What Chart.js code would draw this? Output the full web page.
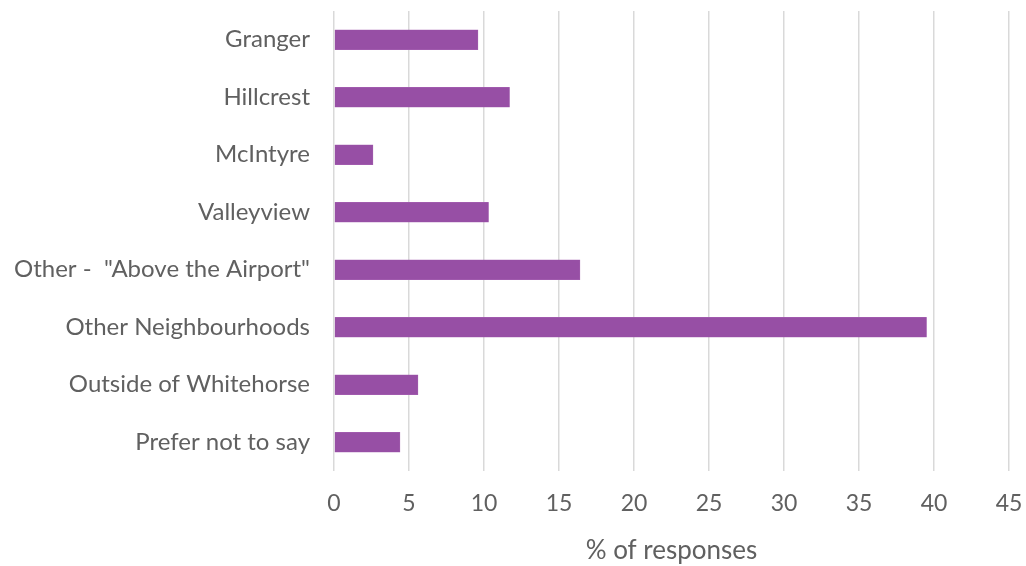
<!DOCTYPE html>
<html>
<head>
<meta charset="utf-8">
<script src="https://cdn.jsdelivr.net/npm/chart.js@4"></script>
<style>
  html, body { margin: 0; padding: 0; background: #fff; }
  #wrap { width: 1026px; height: 566px; }
</style>
</head>
<body>
<div id="wrap"><canvas id="neighbourhoodChart" width="1026" height="566"></canvas></div>
<script>
const neighbourhoods = [
  'Granger',
  'Hillcrest',
  'McIntyre',
  'Valleyview',
  'Other -  "Above the Airport"',
  'Other Neighbourhoods',
  'Outside of Whitehorse',
  'Prefer not to say',
];
const responsePct = [9.6, 11.7, 2.6, 10.3, 16.4, 39.5, 5.6, 4.4];
const xTicks = [0, 5, 10, 15, 20, 25, 30, 35, 40, 45];

const textGrey = '#606060';
const fontFamily = 'Lato, "Open Sans", sans-serif';

const ctx = document.getElementById('neighbourhoodChart').getContext('2d');
new Chart(ctx, {
  type: 'bar',
  data: {
    labels: neighbourhoods,
    datasets: [
      {
        label: '% of responses',
        data: responsePct,
        backgroundColor: '#974fa5',
        borderColor: '#a866b4',
        borderWidth: 0.5,
        barThickness: 20,
      },
    ],
  },
  options: {
    indexAxis: 'y',
    responsive: false,
    animation: false,
    layout: {
      padding: { top: 11, right: 17, bottom: 0, left: 0 },
    },
    plugins: {
      legend: { display: false },
      tooltip: { enabled: false },
    },
    scales: {
      x: {
        min: 0,
        max: 45,
        afterBuildTicks: (scale) => {
          scale.ticks = xTicks.map((v) => ({ value: v }));
        },
        afterFit: (scale) => {
          scale.height = 95;
          scale.paddingLeft = 0;
          scale.paddingRight = 0;
        },
        border: { display: false },
        grid: {
          color: '#d9d9d9',
          lineWidth: 1.5,
          drawTicks: false,
        },
        ticks: {
          color: textGrey,
          font: { family: fontFamily, size: 23 },
          padding: 19,
          maxRotation: 0,
        },
        title: {
          display: true,
          text: '% of responses',
          color: textGrey,
          font: { family: fontFamily, size: 26 },
          padding: { top: 10, bottom: 0 },
        },
      },
      y: {
        afterFit: (scale) => {
          scale.width = 334;
          scale.paddingTop = 0;
          scale.paddingBottom = 0;
        },
        border: { display: false },
        grid: { display: false },
        ticks: {
          color: textGrey,
          font: { family: fontFamily, size: 24 },
          padding: 16,
        },
      },
    },
  },
});
</script>
</body>
</html>
